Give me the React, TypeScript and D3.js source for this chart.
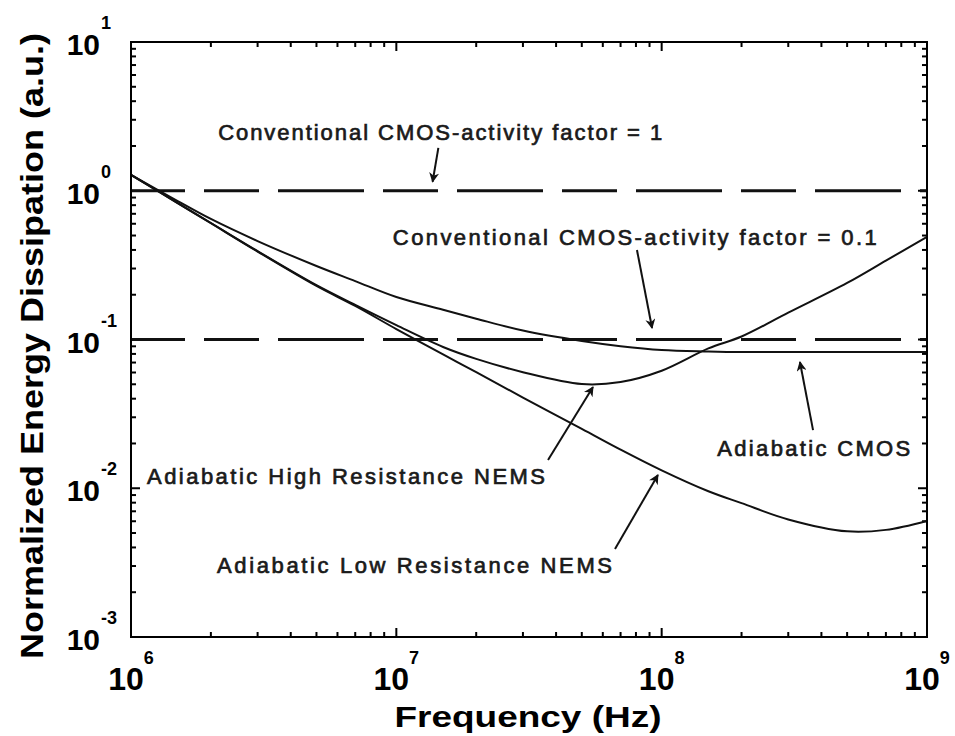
import React, { useRef, useEffect } from 'react';
import * as d3 from 'd3';

// frequency samples (Hz)
const freqs = [1e6, 1.5e6, 2e6, 3e6, 5e6, 7e6, 1e7, 1.5e7, 2e7, 3e7, 5e7, 7e7, 1e8, 1.5e8, 2e8, 3e8, 5e8, 7e8, 1e9];

// normalized energy dissipation
const adiabaticCMOS = [1.28, 0.853, 0.646, 0.459, 0.312, 0.247, 0.193, 0.1585, 0.138, 0.1148, 0.0977, 0.0902, 0.0851, 0.0832, 0.0824, 0.0824, 0.0824, 0.0824, 0.0824];
const highResNEMS = [1.28, 0.827, 0.607, 0.393, 0.232, 0.171, 0.125, 0.0891, 0.0741, 0.0603, 0.0502, 0.0518, 0.0617, 0.0871, 0.1047, 0.1514, 0.2399, 0.339, 0.49];
const lowResNEMS = [1.28, 0.825, 0.605, 0.39, 0.229, 0.168, 0.1175, 0.0794, 0.0603, 0.0407, 0.0251, 0.0182, 0.0132, 0.00955, 0.00794, 0.00617, 0.00513, 0.00525, 0.00603];

// conventional CMOS constant levels
const conventionalLevels = [1, 0.1];

const xTickExps = [6, 7, 8, 9];
const yTickExps = [1, 0, -1, -2, -3];

// annotation text: left anchor [freq, value], label
const labels = [
  { f: 2.13e6, v: 2.18, text: 'Conventional CMOS-activity factor = 1', w: 444 },
  { f: 9.7e6, v: 0.435, text: 'Conventional CMOS-activity factor = 0.1', w: 484 },
  { f: 1.62e8, v: 0.0166, text: 'Adiabatic CMOS', w: 193 },
  { f: 1.149e6, v: 0.0106, text: 'Adiabatic High Resistance NEMS', w: 398 },
  { f: 2.11e6, v: 0.00271, text: 'Adiabatic Low Resistance NEMS', w: 395 },
];

// arrows: from [f, v] to [f, v]
const arrows = [
  { f0: 1.44e7, v0: 1.94, f1: 1.37e7, v1: 1.15 },
  { f0: 8.07e7, v0: 0.4, f1: 9.2e7, v1: 0.1194 },
  { f0: 3.72e8, v0: 0.0246, f1: 3.32e8, v1: 0.0706 },
  { f0: 3.73e7, v0: 0.01549, f1: 5.51e7, v1: 0.0479 },
  { f0: 6.67e7, v0: 0.00391, f1: 9.68e7, v1: 0.01228 },
];

const FONT = '"Liberation Sans", Arial, sans-serif';

const App = () => {
  const svgRef = useRef<SVGSVGElement>(null);

  useEffect(() => {
    const width = 955;
    const height = 736;
    const margin = { top: 42, right: 28, bottom: 99, left: 131 };
    const innerWidth = width - margin.left - margin.right;
    const innerHeight = height - margin.top - margin.bottom;

    d3.select(svgRef.current).selectAll('*').remove();

    const svg = d3.select(svgRef.current)
      .attr('width', width)
      .attr('height', height);

    svg.append('rect').attr('width', width).attr('height', height).attr('fill', '#fff');

    const g = svg.append('g')
      .attr('transform', `translate(${margin.left}, ${margin.top})`);

    const x = d3.scaleLog().domain([1e6, 1e9]).range([0, innerWidth]);
    const y = d3.scaleLog().domain([1e-3, 1e1]).range([innerHeight, 0]);

    // ticks inside the frame on all four sides
    const xMinor: number[] = [];
    for (let e = 6; e < 9; e++) for (let m = 2; m <= 9; m++) xMinor.push(m * Math.pow(10, e));
    const yMinor: number[] = [];
    for (let e = -3; e < 1; e++) for (let m = 2; m <= 9; m++) yMinor.push(m * Math.pow(10, e));

    const tickG = g.append('g').attr('stroke', '#000').attr('stroke-width', 2);
    const xt = [...xTickExps.map(e => ({ v: Math.pow(10, e), l: 9 })), ...xMinor.map(v => ({ v, l: 5 }))];
    xt.forEach(t => {
      tickG.append('line').attr('x1', x(t.v)).attr('x2', x(t.v)).attr('y1', innerHeight).attr('y2', innerHeight - t.l);
      tickG.append('line').attr('x1', x(t.v)).attr('x2', x(t.v)).attr('y1', 0).attr('y2', t.l);
    });
    const yt = [...yTickExps.map(e => ({ v: Math.pow(10, e), l: 9 })), ...yMinor.map(v => ({ v, l: 5 }))];
    yt.forEach(t => {
      tickG.append('line').attr('y1', y(t.v)).attr('y2', y(t.v)).attr('x1', 0).attr('x2', t.l);
      tickG.append('line').attr('y1', y(t.v)).attr('y2', y(t.v)).attr('x1', innerWidth).attr('x2', innerWidth - t.l);
    });

    // dashed conventional CMOS levels
    g.selectAll('.level')
      .data(conventionalLevels)
      .enter()
      .append('line')
      .attr('class', 'level')
      .attr('x1', 0)
      .attr('x2', innerWidth)
      .attr('y1', d => y(d))
      .attr('y2', d => y(d))
      .attr('stroke', '#111')
      .attr('stroke-width', 3)
      .attr('stroke-dasharray', '54 19 55 19 86 19 55 19 86 19 55 19 86 19 55 19 86 19 55 19');

    const line = d3.line<number>()
      .x((_, i) => x(freqs[i]))
      .y(d => y(d))
      .curve(d3.curveCatmullRom.alpha(0.5));

    [adiabaticCMOS, highResNEMS, lowResNEMS].forEach(series => {
      g.append('path')
        .attr('d', line(series))
        .attr('fill', 'none')
        .attr('stroke', '#111')
        .attr('stroke-width', 2);
    });

    // frame
    g.append('rect')
      .attr('width', innerWidth)
      .attr('height', innerHeight)
      .attr('fill', 'none')
      .attr('stroke', '#000')
      .attr('stroke-width', 2);

    // arrows
    svg.append('defs').append('marker')
      .attr('id', 'ah')
      .attr('viewBox', '0 0 10 10')
      .attr('refX', 9)
      .attr('refY', 5)
      .attr('markerWidth', 14)
      .attr('markerHeight', 10)
      .attr('markerUnits', 'userSpaceOnUse')
      .attr('orient', 'auto')
      .append('path')
      .attr('d', 'M0,0 L10,5 L0,10 L3,5 Z')
      .attr('fill', '#111');

    g.selectAll('.arrow')
      .data(arrows)
      .enter()
      .append('line')
      .attr('class', 'arrow')
      .attr('x1', d => x(d.f0))
      .attr('y1', d => y(d.v0))
      .attr('x2', d => x(d.f1))
      .attr('y2', d => y(d.v1))
      .attr('stroke', '#111')
      .attr('stroke-width', 2)
      .attr('marker-end', 'url(#ah)');

    g.selectAll('.label')
      .data(labels)
      .enter()
      .append('text')
      .attr('class', 'label')
      .attr('x', d => x(d.f))
      .attr('y', d => y(d.v))
      .attr('textLength', d => d.w)
      .attr('lengthAdjust', 'spacing')
      .attr('font-family', FONT)
      .attr('font-size', 22)
      .attr('fill', '#1a1a1a')
      .attr('stroke', '#1a1a1a')
      .attr('stroke-width', 0.7)
      .text(d => d.text);

    // x tick labels
    xTickExps.forEach(e => {
      const t = g.append('text')
        .attr('x', x(Math.pow(10, e)))
        .attr('y', innerHeight + 53)
        .attr('text-anchor', 'middle')
        .attr('font-family', FONT)
        .attr('font-weight', 'bold')
        .attr('font-size', 32)
        .attr('fill', '#000');
      t.append('tspan').text('10');
      t.append('tspan').attr('dy', -26).attr('font-size', 18).text(String(e));
    });

    // y tick labels
    yTickExps.forEach(e => {
      const yy = y(Math.pow(10, e));
      g.append('text')
        .attr('x', -31)
        .attr('y', yy + 13)
        .attr('text-anchor', 'end')
        .attr('font-family', FONT)
        .attr('font-weight', 'bold')
        .attr('font-size', 30)
        .attr('fill', '#000')
        .text('10');
      g.append('text')
        .attr('x', -30)
        .attr('y', yy - 13)
        .attr('font-family', FONT)
        .attr('font-weight', 'bold')
        .attr('font-size', 18)
        .attr('fill', '#000')
        .text(e < 0 ? '-' + (-e) : String(e));
    });

    // axis titles
    svg.append('text')
      .attr('x', 528)
      .attr('y', 727)
      .attr('text-anchor', 'middle')
      .attr('font-family', FONT)
      .attr('font-weight', 'bold')
      .attr('font-size', 30)
      .attr('textLength', 267)
      .attr('lengthAdjust', 'spacingAndGlyphs')
      .attr('fill', '#000')
      .text('Frequency (Hz)');

    svg.append('text')
      .attr('transform', 'translate(43, 346) rotate(-90)')
      .attr('text-anchor', 'middle')
      .attr('font-family', FONT)
      .attr('font-weight', 'bold')
      .attr('font-size', 32)
      .attr('textLength', 626)
      .attr('lengthAdjust', 'spacingAndGlyphs')
      .attr('fill', '#000')
      .text('Normalized Energy Dissipation (a.u.)');
  }, []);

  return (
    <div>
      <svg ref={svgRef} style={{ position: 'absolute', left: 0, top: 0, display: 'block' }}></svg>
    </div>
  );
};

export default App;
